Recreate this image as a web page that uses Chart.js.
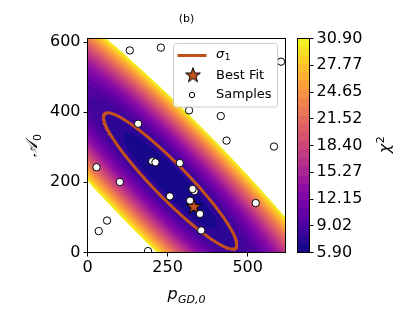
<!DOCTYPE html>
<html>
<head>
<meta charset="utf-8">
<script src="https://cdn.jsdelivr.net/npm/chart.js@4.4.1/dist/chart.umd.min.js"></script>
<style>
  html, body { margin: 0; padding: 0; background: #fff; }
  #wrap { position: relative; width: 401px; height: 324px; }
  #wrap canvas { position: absolute; left: 0; top: 0; }
</style>
</head>
<body>
<div id="wrap">
  <canvas id="main" width="401" height="324"></canvas>
  <canvas id="cbar" width="401" height="324"></canvas>
</div>
<script>
// samples scattered over the (p_GD,0 , A_0) plane
const sampleX = [132, 229, 604, 317, 416, 158, 434, 582, 28, 202, 212, 288, 101, 257, 334, 328, 320, 351, 525, 355, 61, 35, 189];
const sampleY = [576, 584, 544, 405, 389, 367, 319, 302, 243, 260, 257, 255, 201, 160, 175, 181, 148, 110, 141, 63, 91, 61, 4];
const bestFitX = [332];
const bestFitY = [130];

// sigma_1 ellipse (data units): centre, half major axis, half minor axis
const sigmaCenter = [258, 204];
const sigmaMajor = [-204.7, 191.2];
const sigmaMinor = [38.0, 33.9];
const sigmaDeltaChi2 = 2.0;

// chi2 colour scale
const chi2Min = 5.9;
const chi2Max = 30.9;
const chi2Bands = 25;
const chi2TickValues = [5.90, 9.025, 12.15, 15.275, 18.40, 21.525, 24.65, 27.775, 30.90];
const chi2TickLabels = ['5.90', '9.02', '12.15', '15.27', '18.40', '21.52', '24.65', '27.77', '30.90'];

const xTicks = [0, 250, 500];
const yTicks = [0, 200, 400, 600];
const legendLabels = ['σ', 'Best Fit', 'Samples'];

const fitColor = '#c4521c';
const FONT = 'DejaVu Sans';

const plasmaStops = ['#0d0887', '#41049d', '#6a00a8', '#8f0da4', '#b12a90', '#cc4778',
  '#e16462', '#f2844b', '#fca636', '#fcce25', '#f0f921'];

function hexRgb(h) {
  return [parseInt(h.slice(1, 3), 16), parseInt(h.slice(3, 5), 16), parseInt(h.slice(5, 7), 16)];
}
function plasma(t) {
  t = Math.max(0, Math.min(1, t));
  const p = t * (plasmaStops.length - 1);
  const i = Math.min(plasmaStops.length - 2, Math.floor(p));
  const f = p - i;
  const a = hexRgb(plasmaStops[i]), b = hexRgb(plasmaStops[i + 1]);
  const c = a.map((v, j) => Math.round(v + (b[j] - v) * f));
  return `rgb(${c[0]},${c[1]},${c[2]})`;
}

function ellipse(scale) {
  const pts = [];
  const n = 240;
  for (let i = 0; i <= n; i++) {
    const t = i / n * 2 * Math.PI;
    const c = Math.cos(t) * scale, s = Math.sin(t) * scale;
    pts.push({
      x: sigmaCenter[0] + c * sigmaMajor[0] + s * sigmaMinor[0],
      y: sigmaCenter[1] + c * sigmaMajor[1] + s * sigmaMinor[1]
    });
  }
  return pts;
}

function makeStar(r) {
  const c = document.createElement('canvas');
  const size = Math.ceil(r * 2 + 4);
  c.width = c.height = size;
  const g = c.getContext('2d');
  g.beginPath();
  for (let i = 0; i < 10; i++) {
    const rad = i % 2 ? r * 0.39 : r;
    const a = -Math.PI / 2 + i * Math.PI / 5;
    const px = size / 2 + rad * Math.cos(a), py = size / 2 + rad * Math.sin(a);
    if (i) g.lineTo(px, py); else g.moveTo(px, py);
  }
  g.closePath();
  g.fillStyle = fitColor;
  g.fill();
  g.lineWidth = 1;
  g.strokeStyle = '#000';
  g.stroke();
  return c;
}
const starImg = makeStar(7.8);

const levels = [];
for (let k = 0; k <= chi2Bands; k++) levels.push(chi2Min + (chi2Max - chi2Min) * k / chi2Bands);

// filled contours: outer boundary first, darker bands on top
const contourSets = [];
for (let k = chi2Bands - 1; k >= 0; k--) {
  contourSets.push({
    data: ellipse(Math.sqrt((levels[k + 1] - chi2Min) / sigmaDeltaChi2)),
    showLine: true,
    fill: 'shape',
    backgroundColor: plasma((k + 0.5) / chi2Bands),
    borderColor: 'rgba(0,0,0,0)',
    borderWidth: 0,
    pointRadius: 0,
    order: 10 + k
  });
}

function drawSub(ctx, x, y, main, sub, size, italicSub) {
  ctx.font = `italic ${size}px "${FONT}"`;
  ctx.fillText(main, x, y);
  const w = ctx.measureText(main).width;
  ctx.font = `${italicSub ? 'italic ' : ''}${Math.round(size * 0.7)}px "${FONT}"`;
  ctx.fillText(sub, x + w + 0.5, y + size * 0.22);
}

const mainDecor = {
  id: 'mainDecor',
  afterDraw(chart) {
    const { ctx, chartArea: a } = chart;
    ctx.save();
    ctx.strokeStyle = '#000';
    ctx.lineWidth = 1;
    ctx.strokeRect(a.left, a.top, a.right - a.left, a.bottom - a.top);

    ctx.fillStyle = '#000';
    ctx.textAlign = 'center';
    ctx.textBaseline = 'alphabetic';
    ctx.font = `11px "${FONT}"`;
    ctx.fillText('(b)', (a.left + a.right) / 2, 22);

    // x axis label p_{GD,0}
    ctx.textAlign = 'left';
    ctx.font = `italic 16px "${FONT}"`;
    const pw = ctx.measureText('p').width;
    ctx.font = `italic 11px "${FONT}"`;
    const sw = ctx.measureText('GD,0').width;
    const x0 = (a.left + a.right) / 2 - (pw + sw + 0.5) / 2;
    drawSub(ctx, x0, 299, 'p', 'GD,0', 16, true);

    // y axis label A_0
    ctx.save();
    ctx.translate(37, (a.top + a.bottom) / 2);
    ctx.rotate(-Math.PI / 2);
    ctx.font = `italic 16px "${FONT}"`;
    const aw = ctx.measureText('𝒜').width;
    drawSub(ctx, -(aw + 7) / 2, 0, '𝒜', '0', 16, false);
    ctx.restore();

    // legend
    const lx = 173.5, ly = 43.5, lw = 104, lh = 63.5;
    ctx.beginPath();
    ctx.roundRect(lx, ly, lw, lh, 3);
    ctx.fillStyle = 'rgba(255,255,255,0.8)';
    ctx.fill();
    ctx.strokeStyle = '#cccccc';
    ctx.lineWidth = 1;
    ctx.stroke();

    ctx.strokeStyle = fitColor;
    ctx.lineWidth = 3;
    ctx.beginPath();
    ctx.moveTo(177.5, 55.5);
    ctx.lineTo(206.5, 55.5);
    ctx.stroke();
    ctx.drawImage(starImg, 193 - starImg.width / 2, 75.5 - starImg.height / 2);
    ctx.beginPath();
    ctx.arc(192, 95, 2.7, 0, Math.PI * 2);
    ctx.fillStyle = '#fff';
    ctx.fill();
    ctx.strokeStyle = '#000';
    ctx.lineWidth = 1;
    ctx.stroke();

    ctx.fillStyle = '#000';
    ctx.textBaseline = 'middle';
    drawSub(ctx, 216, 55, legendLabels[0], '1', 13, false);
    ctx.font = `13px "${FONT}"`;
    ctx.fillText(legendLabels[1], 216, 75.5);
    ctx.fillText(legendLabels[2], 216, 95);
    ctx.restore();
  }
};

const tickFont = { family: FONT, size: 16 };

new Chart(document.getElementById('main'), {
  type: 'scatter',
  data: {
    datasets: [
      {
        data: sampleX.map((x, i) => ({ x, y: sampleY[i] })),
        pointStyle: 'circle',
        pointRadius: 3.7,
        backgroundColor: '#ffffff',
        borderColor: '#000000',
        borderWidth: 1,
        order: 1
      },
      {
        data: bestFitX.map((x, i) => ({ x, y: bestFitY[i] })),
        pointStyle: starImg,
        pointRadius: 8,
        order: 2
      },
      {
        data: ellipse(1),
        showLine: true,
        fill: false,
        borderColor: fitColor,
        borderWidth: 3,
        pointRadius: 0,
        order: 3
      },
      ...contourSets
    ]
  },
  options: {
    responsive: false,
    animation: false,
    events: [],
    layout: { padding: { left: 47.5, right: 115.5, top: 38.5, bottom: 41.5 } },
    plugins: { legend: { display: false }, tooltip: { enabled: false } },
    scales: {
      x: {
        type: 'linear', min: 0, max: 618,
        afterFit: s => { s.height = 30; },
        afterBuildTicks: s => { s.ticks = xTicks.map(v => ({ value: v })); },
        ticks: { font: tickFont, color: '#000', padding: 2, maxRotation: 0 },
        grid: { drawOnChartArea: false, tickLength: 4, color: '#000' },
        border: { display: false }
      },
      y: {
        type: 'linear', min: 0, max: 610,
        afterFit: s => { s.width = 40; },
        afterBuildTicks: s => { s.ticks = yTicks.map(v => ({ value: v })); },
        ticks: { font: tickFont, color: '#000', padding: 3 },
        grid: { drawOnChartArea: false, tickLength: 4, color: '#000' },
        border: { display: false }
      }
    }
  },
  plugins: [mainDecor]
});

// colour bar
const cbarDecor = {
  id: 'cbarDecor',
  afterDraw(chart) {
    const { ctx, chartArea: a } = chart;
    ctx.save();
    ctx.strokeStyle = '#000';
    ctx.lineWidth = 1;
    ctx.strokeRect(a.left, a.top, a.right - a.left, a.bottom - a.top);
    ctx.translate(386, (a.top + a.bottom) / 2);
    ctx.rotate(-Math.PI / 2);
    ctx.fillStyle = '#000';
    ctx.textBaseline = 'middle';
    ctx.font = `italic 16px "${FONT}"`;
    const w = ctx.measureText('χ').width;
    ctx.fillText('χ', -(w + 6) / 2, 0);
    ctx.font = `11px "${FONT}"`;
    ctx.fillText('2', -(w + 6) / 2 + w + 0.5, -5);
    ctx.restore();
  }
};

const bandSets = [];
for (let k = 0; k < chi2Bands; k++) {
  bandSets.push({
    data: [[levels[k], levels[k + 1]]],
    backgroundColor: plasma((k + 0.5) / chi2Bands),
    borderWidth: 0,
    grouped: false,
    barPercentage: 1,
    categoryPercentage: 1
  });
}

new Chart(document.getElementById('cbar'), {
  type: 'bar',
  data: { labels: [''], datasets: bandSets },
  options: {
    responsive: false,
    animation: false,
    events: [],
    layout: { padding: { left: 297.5, right: 31.5, top: 38.5, bottom: 71.5 } },
    plugins: { legend: { display: false }, tooltip: { enabled: false } },
    scales: {
      x: { display: false },
      y: {
        position: 'right',
        min: chi2Min, max: chi2Max,
        afterFit: s => { s.width = 60; },
        afterBuildTicks: s => { s.ticks = chi2TickValues.map(v => ({ value: v })); },
        ticks: { font: tickFont, color: '#000', padding: 3, callback: (v, i) => chi2TickLabels[i] },
        grid: { drawOnChartArea: false, tickLength: 4, color: '#000' },
        border: { display: false }
      }
    }
  },
  plugins: [cbarDecor]
});
</script>
</body>
</html>
